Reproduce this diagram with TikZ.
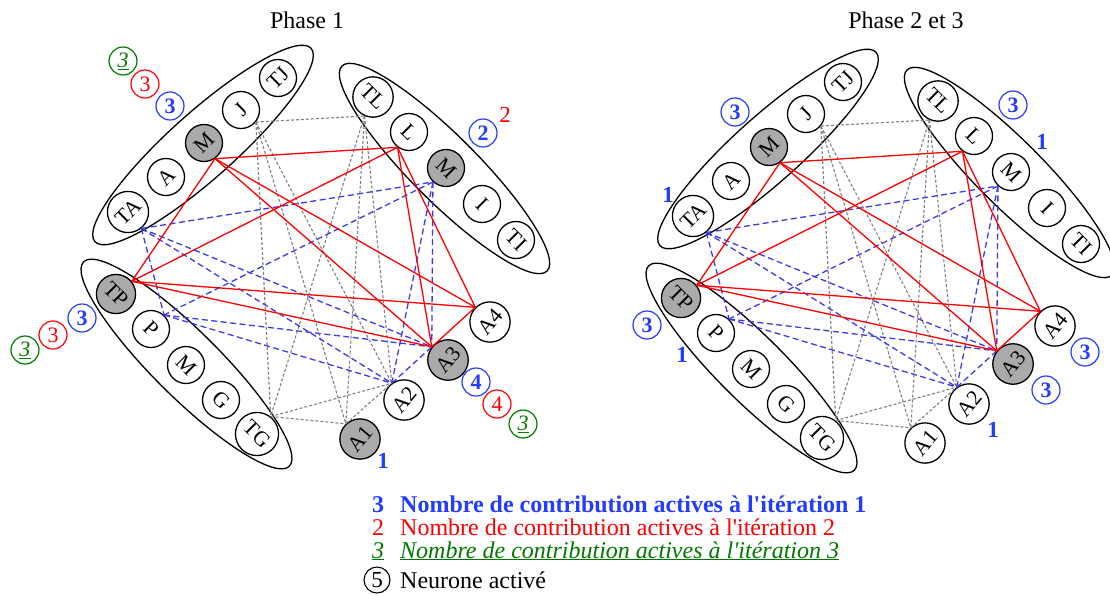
\documentclass[tikz,border=0pt]{standalone}
\usepackage{fontspec}
\setmainfont{Liberation Serif}[Ligatures=TeXOff]
\usepackage{graphicx}
\definecolor{cblue}{RGB}{35,60,255}
\definecolor{cline}{RGB}{60,60,235}
\definecolor{cgreen}{RGB}{0,120,0}
\definecolor{cgray}{RGB}{128,128,128}
\definecolor{cfill}{RGB}{170,170,170}
\tikzset{
 neur/.style={circle,draw,line width=1.3pt,minimum size=37pt,inner sep=0pt,fill=white,font=\fontsize{21.5}{21.5}\selectfont},
 act/.style={neur,fill=cfill},
 grp/.style={line width=1.3pt},
 redl/.style={red,line width=1.3pt},
 bluel/.style={cline,line width=1.3pt,dash pattern=on 6pt off 3.5pt},
 grayl/.style={cgray,line width=1.1pt,dash pattern=on 3pt off 2pt},
 cb/.style={circle,draw=cblue,text=cblue,line width=1.2pt,minimum size=28pt,inner sep=0pt,font=\fontsize{22}{22}\selectfont\bfseries},
 cr/.style={circle,draw=red,text=red,line width=1.2pt,minimum size=28pt,inner sep=0pt,font=\fontsize{22}{22}\selectfont},
 cg/.style={circle,draw=cgreen,text=cgreen,line width=1.2pt,minimum size=28pt,inner sep=0pt,font=\fontsize{22}{22}\selectfont\itshape},
 nb/.style={text=cblue,font=\fontsize{23}{23}\selectfont\bfseries,inner sep=0pt},
 lgd/.style={font=\fontsize{24}{24}\selectfont,inner sep=0pt},
}
% #1 prefix, #2 style of second M, #3 style of A1
\newcommand\drawpanel[3]{%
 \draw[grp,rotate around={41.8:(203,-145)}] (203,-145) ellipse (145 and 33);
 \draw[grp,rotate around={-45:(444.5,-168.5)}] (444.5,-168.5) ellipse (145 and 33);
 \draw[grp,rotate around={-44.8:(186.5,-364)}] (186.5,-364) ellipse (145 and 33);
 \node[neur] (#1TA) at (128,-212) {\rotatebox{45}{TA}};
 \node[neur] (#1A) at (166,-177) {\rotatebox{45}{A}};
 \node[act] (#1M1) at (204,-143) {\rotatebox{45}{M}};
 \node[neur] (#1J) at (241,-110) {\rotatebox{45}{J}};
 \node[neur] (#1TJ) at (278,-78) {\rotatebox{45}{TJ}};
 \node[neur] (#1TL) at (373,-97) {\rotatebox{-45}{TL}};
 \node[neur] (#1L) at (409,-132) {\rotatebox{-45}{L}};
 \node[#2] (#1M2) at (446,-168) {\rotatebox{-45}{M}};
 \node[neur] (#1I) at (482,-204) {\rotatebox{-45}{I}};
 \node[neur] (#1TI) at (516,-240) {\rotatebox{-45}{TI}};
 \node[act] (#1TP) at (116,-294) {\rotatebox{-45}{TP}};
 \node[neur] (#1P) at (151,-329) {\rotatebox{-45}{P}};
 \node[neur] (#1M3) at (186,-365) {\rotatebox{-45}{M}};
 \node[neur] (#1G) at (221,-400) {\rotatebox{-45}{G}};
 \node[neur] (#1TG) at (257,-434) {\rotatebox{-45}{TG}};
 \node[#3] (#1A1) at (360,-439) {\rotatebox{50}{A1}};
 \node[neur] (#1A2) at (404,-400) {\rotatebox{50}{A2}};
 \node[act] (#1A3) at (448,-360) {\rotatebox{50}{A3}};
 \node[neur] (#1A4) at (490,-322) {\rotatebox{50}{A4}};
 \foreach \a/\b in {J.-39/TL.-114, J.-39/TG.52, J.-39/A1.133, J.-39/A2.126,
   TL.-114/TG.52, TL.-114/A1.133, TL.-114/A2.126, TG.52/A1.133, TG.52/A2.126, A1.133/A2.126}
   \draw[grayl] (#1\a) -- (#1\b);
 \foreach \a/\b in {TA.-51/M2.-133, TA.-51/P.47, TA.-51/A2.126, TA.-51/A3.141,
   M2.-133/P.47, M2.-133/A2.126, M2.-133/A3.141, P.47/A2.126, P.47/A3.141, A2.126/A3.141}
   \draw[bluel] (#1\a) -- (#1\b);
 \foreach \a/\b in {M1.-55/L.-127, M1.-55/TP.39, M1.-55/A3.141, M1.-55/A4.135,
   L.-127/TP.39, L.-127/A3.141, L.-127/A4.135, TP.39/A3.141, TP.39/A4.135, A3.141/A4.135}
   \draw[redl] (#1\a) -- (#1\b);
}
\begin{document}
\begin{tikzpicture}[x=1pt,y=1pt]
\useasboundingbox (0,0) rectangle (1110,-595);
\node[lgd,anchor=base] (t1) at (307,-28.5) {Phase 1};
\node[lgd,anchor=base] (t2) at (906,-28.5) {Phase 2 et 3};
\drawpanel{l}{act}{act}
\begin{scope}[shift={(565,-4)}]
\drawpanel{r}{neur}{neur}
\end{scope}
% left labels
\node[cg] (g1a) at (123,-61) {\underline{3}};
\node[cr] (g1b) at (145,-84) {3};
\node[cb] (g1c) at (170,-106) {3};
\node[cb] (g2a) at (483,-133) {2};
\node[text=red,font=\fontsize{23}{23}\selectfont,inner sep=0pt] (g2b) at (505,-115) {2};
\node[cb] (g3a) at (82,-318) {3};
\node[cr] (g3b) at (53,-335) {3};
\node[cg] (g3c) at (25,-350) {\underline{3}};
\node[cb] (a3a) at (476,-382) {4};
\node[cr] (a3b) at (497,-404) {4};
\node[cg] (a3c) at (523,-424) {\underline{3}};
\node[nb] (a1n) at (383,-461) {1};
% right labels
\node[cb] (rg1a) at (735,-112) {3};
\node[nb] (rg1n) at (668,-195) {1};
\node[cb] (rg2a) at (1013,-105) {3};
\node[nb] (rg2n) at (1042,-142) {1};
\node[cb] (rg3a) at (647,-325) {3};
\node[nb] (rg3n) at (682,-355) {1};
\node[cb] (ra4) at (1085,-352) {3};
\node[cb] (ra3) at (1046,-390) {3};
\node[nb] (ra2) at (993,-430) {1};
% legend
\node[lgd,anchor=base,text=cblue,font=\fontsize{24}{24}\selectfont\bfseries] (k1) at (378,-512) {3};
\node[lgd,anchor=base west,text=cblue,font=\fontsize{24}{24}\selectfont\bfseries] (k1t) at (400,-512) {Nombre de contribution actives à l'itération 1};
\node[lgd,anchor=base,text=red] (k2) at (378,-535) {2};
\node[lgd,anchor=base west,text=red] (k2t) at (400,-535) {Nombre de contribution actives à l'itération 2};
\node[lgd,anchor=base,text=cgreen] (k3) at (378,-558) {\underline{\textit{3}}};
\node[lgd,anchor=base west,text=cgreen] (k3t) at (400,-558) {\underline{\textit{Nombre de contribution actives à l'itération 3}}};
\node[circle,draw,line width=1.1pt,minimum size=26pt,inner sep=0pt,font=\fontsize{23}{23}\selectfont] (k4) at (377,-580) {5};
\node[lgd,anchor=base west] (k4t) at (400,-588) {Neurone activé};
\end{tikzpicture}
\end{document}
